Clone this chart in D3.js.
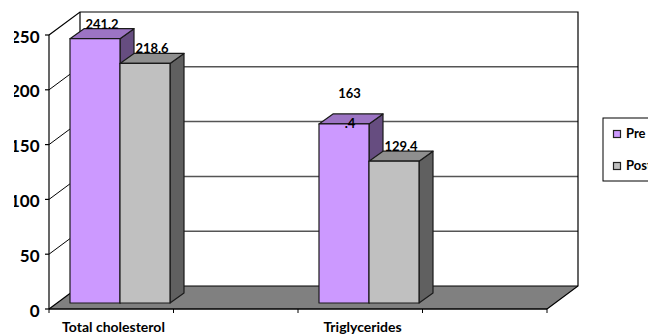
<!DOCTYPE html>
<html>
<head>
<meta charset="utf-8">
<script src="https://cdn.jsdelivr.net/npm/d3@7"></script>
<style>
html,body{margin:0;padding:0;background:#fff;overflow:hidden}
svg{display:block}
text{font-family:Lato,"Open Sans",sans-serif;font-weight:700;fill:#000}
</style>
</head>
<body>
<svg id="chart" width="648" height="335"></svg>
<script>
const categories = ["Total cholesterol", "Triglycerides"];
const seriesNames = ["Pre", "Post"];
const preValues = [241.2, 163.4];
const postValues = [218.6, 129.4];
const yTicks = [0, 50, 100, 150, 200, 250];

const frontColors = {Pre: "#cc99ff", Post: "#c0c0c0"};
const topColors = {Pre: "#9c74c4", Post: "#8f8f8f"};
const sideColors = {Pre: "#664d80", Post: "#606060"};

const svg = d3.select("#chart");
const y = d3.scaleLinear().domain([0, 250]).range([309, 35]);
const x = d3.scaleBand().domain(categories).range([49, 547]);
const inner = d3.scaleBand().domain(seriesNames).range([21, 121]);

// Oblique projection: wall depth and bar depth
const wallDx = 31, wallDy = -23;
const barDx = 14, barDy = -10;
const barLift = 6;

const valueOf = {Pre: preValues, Post: postValues};
const poly = pts => "M" + pts.map(p => p.join(",")).join("L") + "Z";

svg.append("defs").append("clipPath").attr("id", "tickClip")
  .append("rect").attr("x", 14).attr("y", 0).attr("width", 40).attr("height", 335);

// Floor
const x0 = x.range()[0], x1 = x.range()[1];
svg.append("path")
  .attr("d", poly([[x0, y(0)], [x1, y(0)], [x1 + wallDx, y(0) + wallDy], [x0 + wallDx, y(0) + wallDy]]))
  .attr("fill", "#808080");

// Gridlines on the left and back walls
yTicks.slice(1, -1).forEach(t => {
  svg.append("path")
    .attr("d", `M${x0},${y(t)}L${x0 + wallDx},${y(t) + wallDy}`)
    .attr("fill", "none").attr("stroke", "#000").attr("stroke-width", 1);
  svg.append("line")
    .attr("x1", x0 + wallDx).attr("x2", x1 + wallDx)
    .attr("y1", y(t) + wallDy).attr("y2", y(t) + wallDy)
    .attr("stroke", "#555").attr("stroke-width", 1.5);
});

// Wall outlines
const outline = svg.append("g").attr("fill", "none").attr("stroke", "#000");
outline.append("path").attr("stroke-width", 1.2)
  .attr("d", `M${x0},${y(250)}L${x0 + wallDx},${y(250) + wallDy}L${x1 + wallDx},${y(250) + wallDy}L${x1 + wallDx},${y(0) + wallDy}L${x1},${y(0)}`);
outline.append("path").attr("stroke-width", 1.2)
  .attr("d", `M${x0 + wallDx},${y(250) + wallDy}L${x0 + wallDx},${y(0) + wallDy}L${x1 + wallDx},${y(0) + wallDy}`);
outline.append("path").attr("stroke-width", 1.2)
  .attr("d", `M${x0},${y(0)}L${x0 + wallDx},${y(0) + wallDy}`);

// Bars
categories.forEach((c, i) => {
  seriesNames.forEach(s => {
    const left = x(c) + inner(s), right = left + inner.bandwidth();
    const bottom = y(0) - barLift, top = y(valueOf[s][i]) - barLift;
    const g = svg.append("g").attr("stroke", "#1a1a1a").attr("stroke-width", 1.2).attr("stroke-linejoin", "round");
    g.append("path").attr("fill", sideColors[s])
      .attr("d", poly([[right, top], [right + barDx, top + barDy], [right + barDx, bottom + barDy], [right, bottom]]));
    g.append("path").attr("fill", topColors[s])
      .attr("d", poly([[left, top], [left + barDx, top + barDy], [right + barDx, top + barDy], [right, top]]));
    g.append("path").attr("fill", frontColors[s])
      .attr("d", poly([[left, top], [right, top], [right, bottom], [left, bottom]]));
  });
});

// Baseline and vertical axis in front
svg.append("line").attr("x1", x0).attr("x2", x1).attr("y1", y(0)).attr("y2", y(0))
  .attr("stroke", "#000").attr("stroke-width", 1.4);
svg.append("line").attr("x1", x0).attr("x2", x0).attr("y1", y(250)).attr("y2", y(0))
  .attr("stroke", "#000").attr("stroke-width", 1.2);

// Value axis ticks and labels, cut off at the left edge of the plot frame
const yAxis = svg.append("g").attr("clip-path", "url(#tickClip)");
yTicks.forEach(t => {
  yAxis.append("line").attr("x1", 45).attr("x2", x0).attr("y1", y(t)).attr("y2", y(t))
    .attr("stroke", "#000").attr("stroke-width", 1.2);
  yAxis.append("text").attr("x", 39.5).attr("y", y(t) + 7.5)
    .attr("text-anchor", "end").attr("font-size", 17).text(t);
});

// Category ticks: band edges and band centres
const step = x.bandwidth() / 2;
d3.range(5).map(k => x0 + k * step).forEach(px => {
  svg.append("line").attr("x1", px).attr("x2", px).attr("y1", y(0)).attr("y2", y(0) + 4)
    .attr("stroke", "#000").attr("stroke-width", 1);
});

// Category labels
categories.forEach(c => {
  svg.append("text")
    .attr("x", x(c) + x.bandwidth() / 2 - 60).attr("y", 332)
    .attr("text-anchor", "middle").attr("font-size", 14).text(c);
});

// Value labels; the 163.4 label wraps onto two lines
const labelSize = 13;
categories.forEach((c, i) => {
  seriesNames.forEach(s => {
    const v = valueOf[s][i];
    const left = x(c) + inner(s);
    const mid = left + inner.bandwidth() / 2;
    const top = y(v) - barLift;
    const str = String(v);
    if (str === "163.4") {
      svg.append("text").attr("x", mid + 5.5).attr("y", top - 26)
        .attr("text-anchor", "middle").attr("font-size", labelSize).text(str.slice(0, 3));
      svg.append("text").attr("x", mid + 6).attr("y", top + 4)
        .attr("text-anchor", "middle").attr("font-size", labelSize).text(str.slice(3));
    } else {
      svg.append("text").attr("x", mid + 7).attr("y", top - 10)
        .attr("text-anchor", "middle").attr("font-size", labelSize).text(str);
    }
  });
});

// Legend, running past the right edge of the page
svg.append("rect").attr("x", 603).attr("y", 118).attr("width", 70).attr("height", 63)
  .attr("fill", "#fff").attr("stroke", "#000").attr("stroke-width", 1);
seriesNames.forEach((s, i) => {
  const ly = 134 + i * 32;
  svg.append("rect").attr("x", 613.5).attr("y", ly - 3.5).attr("width", 7).attr("height", 7)
    .attr("fill", frontColors[s]).attr("stroke", "#222").attr("stroke-width", 1.2);
  svg.append("text").attr("x", 626).attr("y", ly + 4).attr("font-size", 13).text(s);
});
</script>
</body>
</html>
